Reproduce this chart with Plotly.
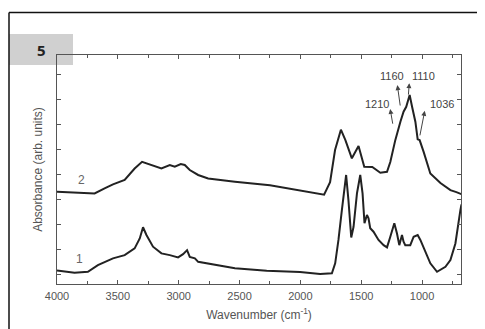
import plotly.graph_objects as go

# Curve 2 (upper spectrum)
wn2 = [4000, 3801, 3691, 3609, 3540, 3444, 3362, 3301, 3265, 3142, 3073, 3032, 2983, 2950,
       2909, 2840, 2758, 2538, 2250, 1838, 1805, 1756, 1715, 1667, 1630, 1577, 1522, 1475,
       1442, 1409, 1343, 1288, 1261, 1220, 1178, 1152, 1130, 1102, 1082, 1055, 1036, 1020,
       987, 932, 849, 767, 718, 676]
ab2 = [3.31, 3.27, 3.24, 3.44, 3.60, 3.78, 4.24, 4.51, 4.45, 4.24, 4.38, 4.31, 4.42, 4.38,
       4.18, 3.98, 3.84, 3.71, 3.57, 3.24, 3.19, 3.69, 4.98, 5.80, 5.38, 4.65, 5.14, 4.31,
       4.30, 4.30, 4.07, 4.11, 4.50, 5.38, 6.12, 6.52, 6.72, 7.19, 6.72, 6.12, 5.41, 5.38,
       4.91, 4.04, 3.66, 3.37, 3.29, 3.21]

# Curve 1 (lower spectrum)
wn1 = [4000, 3856, 3746, 3664, 3540, 3444, 3362, 3320, 3293, 3265, 3211, 3142, 3073, 3005,
       2964, 2931, 2909, 2867, 2840, 2703, 2538, 2277, 2003, 1838, 1783, 1741, 1714, 1687,
       1659, 1624, 1605, 1582, 1563, 1535, 1508, 1489, 1473, 1453, 1440, 1426, 1399, 1358,
       1316, 1288, 1261, 1228, 1206, 1187, 1165, 1152, 1138, 1097, 1069, 1036, 1014, 973,
       932, 877, 808, 767, 726, 685, 676]
ab1 = [0.14, 0.05, 0.09, 0.36, 0.63, 0.76, 1.03, 1.43, 1.88, 1.57, 1.10, 0.83, 0.76, 0.67,
       0.80, 0.96, 0.69, 0.63, 0.49, 0.36, 0.23, 0.13, 0.08, 0.00, 0.00, 0.03, 0.43, 1.37,
       2.57, 3.98, 2.97, 1.47, 1.90, 3.24, 3.98, 3.24, 2.04, 2.37, 2.24, 1.84, 1.70, 1.37,
       1.16, 1.07, 1.50, 2.04, 1.63, 1.16, 1.57, 1.30, 1.16, 1.16, 1.50, 1.57, 1.37, 0.90,
       0.43, 0.09, 0.29, 0.56, 1.23, 2.57, 2.80]

# Peak labels: text, text position, arrow head, arrow tail
peak_labels = ["1160", "1110", "1210", "1036"]
label_x = [1245, 989, 1368, 833]
label_y = [7.95, 7.95, 6.83, 6.83]
head_x = [1203, 1105, 1262, 978]
head_y = [7.59, 7.67, 6.63, 6.56]
tail_x = [1178, 1113, 1239, 1020]
tail_y = [6.71, 7.15, 5.98, 5.51]

curve_names = ["2", "1"]
curve_label_x = [3798, 3815]
curve_label_y = [3.78, 0.60]

x_ticks = [4000, 3500, 3000, 2500, 2000, 1500, 1000]

fig = go.Figure()
fig.add_trace(go.Scatter(x=wn2, y=ab2, mode="lines", line=dict(color="#222222", width=2),
                         showlegend=False, hoverinfo="skip"))
fig.add_trace(go.Scatter(x=wn1, y=ab1, mode="lines", line=dict(color="#222222", width=2),
                         showlegend=False, hoverinfo="skip"))

gray = "#555555"
# plot area in page pixels: x 57..461, y 55..284 (the page body adds an 8 px offset)
PX0, PW, PY1, PH = 57, 404, 284, 229


def px(v):
    return (v - PX0) / PW


def py(v):
    return (PY1 - v) / PH


ann = []
for t, lx, ly in zip(peak_labels, label_x, label_y):
    ann.append(dict(x=lx, y=ly, text=t, showarrow=False, font=dict(size=11, color="#444444")))
for hx, hy, tx, ty in zip(head_x, head_y, tail_x, tail_y):
    ann.append(dict(x=hx, y=hy, ax=tx, ay=ty, axref="x", ayref="y", xref="x", yref="y",
                    text="", showarrow=True, arrowhead=2, arrowsize=1, arrowwidth=1,
                    arrowcolor="#444444"))
for t, lx, ly in zip(curve_names, curve_label_x, curve_label_y):
    ann.append(dict(x=lx, y=ly, text=t, showarrow=False, font=dict(size=12, color="#666666")))

# panel number box label
ann.append(dict(x=px(41), y=py(50), xref="paper", yref="paper", xanchor="center",
                yanchor="middle", text="<b>5</b>", showarrow=False,
                font=dict(size=15, color="#222222", family="Open Sans, Arial")))

shapes = [
    dict(type="rect", xref="paper", yref="paper", x0=px(9), x1=px(73),
         y0=py(65), y1=py(34), fillcolor="#d0d0d0", line=dict(width=0), layer="below"),
    dict(type="line", xref="paper", yref="paper", x0=px(9), x1=px(490),
         y0=py(12.5), y1=py(12.5), line=dict(color="#111111", width=1.5)),
    dict(type="line", xref="paper", yref="paper", x0=px(9), x1=px(9),
         y0=py(12.5), y1=py(335), line=dict(color="#111111", width=1.5)),
]

axis_common = dict(showgrid=False, zeroline=False, showline=True, linecolor="#555555",
                   linewidth=1, mirror="ticks", ticks="inside", ticklen=4, tickcolor="#555555",
                   automargin=False)

OFF = 8  # default body margin of the html page
fig.update_layout(
    width=485 - OFF, height=329 - OFF,
    margin=dict(l=PX0 - OFF, r=485 - (PX0 + PW), t=(PY1 - PH) - OFF, b=329 - PY1),
    paper_bgcolor="white", plot_bgcolor="white",
    font=dict(family="Liberation Sans, Arial", color=gray),
    annotations=ann, shapes=shapes,
    xaxis=dict(range=[4000, 680], tickvals=x_ticks, ticktext=[str(v) for v in x_ticks],
               minor=dict(dtick=250, ticks="inside", ticklen=3, tickcolor="#555555"),
               tickfont=dict(size=11, color=gray), ticklabelstandoff=2,
               title=dict(text="Wavenumber (cm<sup>-1</sup>)", font=dict(size=12, color=gray),
                          standoff=9),
               **axis_common),
    yaxis=dict(range=[-0.4, 8.8], dtick=1, showticklabels=False,
               title=dict(text="Absorbance (arb. units)", font=dict(size=12, color=gray),
                          standoff=10),
               **axis_common),
)

fig.write_html("out.html")
